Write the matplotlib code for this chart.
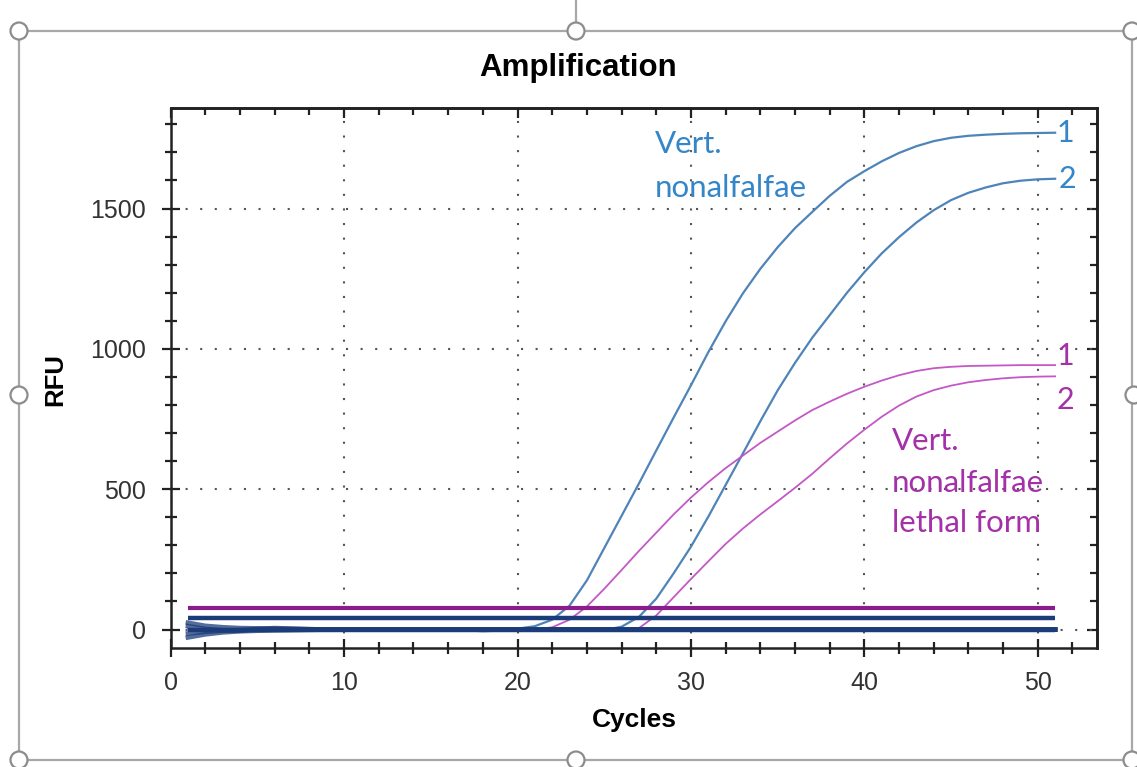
import matplotlib.pyplot as plt
from matplotlib.patches import Circle, Rectangle
from matplotlib.ticker import MultipleLocator

# qPCR amplification run, RFU per cycle
cycles = list(range(1, 52))

vn_1 = [0] * 16 + [-3, -6, -4, 3, 12, 35, 85, 175, 290, 405, 520, 638, 755, 870,
                   988, 1098, 1198, 1285, 1362, 1430, 1488, 1545, 1595, 1633, 1668,
                   1698, 1722, 1740, 1752, 1759, 1763, 1766, 1768, 1769, 1770]
vn_2 = [0] * 22 + [-3, -5, -2, 10, 45, 110, 200, 295, 402, 515, 628, 742, 852, 950,
                   1040, 1120, 1200, 1273, 1340, 1398, 1450, 1494, 1530, 1556, 1575,
                   1590, 1599, 1604, 1606]
lethal_1 = [0] * 21 + [8, 35, 82, 145, 212, 280, 345, 410, 470, 525, 575, 620, 665,
                       705, 745, 782, 812, 840, 865, 887, 906, 921, 931, 936, 939, 940,
                       941, 942, 942, 942]
lethal_2 = [0] * 24 + [-3, -5, 5, 50, 115, 180, 243, 305, 360, 410, 457, 505, 555,
                       610, 663, 712, 758, 798, 830, 853, 869, 881, 889, 895, 899, 901,
                       902]

# flat traces (negative controls) sitting on the baseline
neg_a = [24, 13, 8, 5, 4, 3, 2, 1] + [0] * 43
neg_b = [-28, -17, -10, -6, -4, -3, -2, -1] + [0] * 43
neg_c = [12, 2, -3, -4, 2, 5, 3, 1] + [0] * 43
neg_d = [-14, -8, -4, -2, -1, 0, 0, 0] + [0] * 43

thr_lethal = 78
thr_vn = 42

blue = '#4f84b8'
pink = '#c458c6'
navy = '#1b3c78'
purple = '#8b1c8b'
blue_txt = '#3486c8'
pink_txt = '#a531a8'

W, H = 1137, 767
fig = plt.figure(figsize=(W / 100, H / 100), dpi=100)

# selection frame with handles around the chart object
deco = fig.add_axes([0, 0, 1, 1], zorder=0)
deco.set_xlim(0, W)
deco.set_ylim(H, 0)
deco.axis('off')
deco.add_patch(Rectangle((19, 31), 1113, 729, fill=False, ec='#a8a8a8', lw=1.6))
deco.plot([576, 576], [0, 23], color='#a8a8a8', lw=1.6)
for hx, hy in [(19, 31), (576, 31), (1132, 31), (19, 395), (1134, 395),
               (19, 760), (576, 760), (1132, 760)]:
    deco.add_patch(Circle((hx, hy), 8.5, fc='white', ec='#8c8c8c', lw=1.6, zorder=3))

ax = fig.add_axes([0.1501, 0.1547, 0.8145, 0.7041], zorder=2)
ax.set_facecolor('none')

for y in [vn_1, vn_2]:
    ax.plot(cycles, y, color=blue, lw=1.6, zorder=2)
for y in [lethal_1, lethal_2]:
    ax.plot(cycles, y, color=pink, lw=1.3, zorder=2)

for y in [neg_a, neg_b, neg_c, neg_d]:
    ax.plot(cycles, y, color=navy, lw=3.4, alpha=0.75, zorder=3)
ax.hlines(0, cycles[0], cycles[-1], color=navy, lw=3.2, zorder=3)
ax.hlines(thr_vn, cycles[0], cycles[-1], color=navy, lw=3.2, zorder=3)
ax.hlines(thr_lethal, cycles[0], cycles[-1], color=purple, lw=3.0, zorder=3)

ax.set_xlim(0, 53.4)
ax.set_ylim(-67, 1857)
ax.xaxis.set_major_locator(MultipleLocator(10))
ax.xaxis.set_minor_locator(MultipleLocator(2))
ax.yaxis.set_major_locator(MultipleLocator(500))
ax.yaxis.set_minor_locator(MultipleLocator(100))
ax.grid(True, which='major', color='#555555', lw=1.5, ls=(0, (1, 6)), zorder=0.5)

ax.tick_params(which='both', direction='inout', width=1.6, color='#222222',
               labelsize=18, labelcolor='#333333', top=False, right=False)
ax.tick_params(which='major', length=13)
ax.tick_params(which='minor', length=8)
ax.tick_params(axis='x', pad=10)
ax.tick_params(axis='y', pad=11)
for lab in ax.get_xticklabels() + ax.get_yticklabels():
    lab.set_family('Liberation Sans')
for s in ax.spines.values():
    s.set_linewidth(1.8)
    s.set_color('#222222')

# inward ticks along the top and right edges
sec_x = ax.secondary_xaxis('top')
sec_x.xaxis.set_major_locator(MultipleLocator(10))
sec_x.xaxis.set_minor_locator(MultipleLocator(2))
sec_x.tick_params(which='both', direction='in', width=1.6, color='#222222', labeltop=False)
sec_x.tick_params(which='major', length=7)
sec_x.tick_params(which='minor', length=5)
sec_x.spines['top'].set_linewidth(1.8)
sec_y = ax.secondary_yaxis('right')
sec_y.yaxis.set_major_locator(MultipleLocator(500))
sec_y.yaxis.set_minor_locator(MultipleLocator(100))
sec_y.tick_params(which='both', direction='in', width=1.6, color='#222222', labelright=False)
sec_y.tick_params(which='major', length=7)
sec_y.tick_params(which='minor', length=5)
sec_y.spines['right'].set_linewidth(1.8)

fig.text(578 / W, 1 - 68 / H, 'Amplification', ha='center', va='center',
         fontsize=22.5, fontweight='bold', family='Liberation Sans')
fig.text(634 / W, 1 - 720 / H, 'Cycles', ha='center', va='center',
         fontsize=19, fontweight='bold', family='Liberation Sans')
fig.text(55 / W, 1 - 380 / H, 'RFU', ha='center', va='center', rotation=90,
         fontsize=18.5, fontweight='bold', family='Liberation Sans')

txt = dict(family='Lato', fontsize=22.5, va='baseline', ha='left')
ax.text(27.9, 1698, 'Vert.', color=blue_txt, **txt)
ax.text(27.9, 1540, 'nonalfalfae', color=blue_txt, **txt)
ax.text(41.6, 640, 'Vert.', color=pink_txt, **txt)
ax.text(41.6, 490, 'nonalfalfae', color=pink_txt, **txt)
ax.text(41.6, 347, 'lethal form', color=pink_txt, **txt)

num = dict(family='Lato', fontsize=22, va='center', ha='center')
ax.text(51.6, vn_1[-1], '1', color=blue_txt, **num)
ax.text(51.7, vn_2[-1], '2', color=blue_txt, **num)
ax.text(51.6, 975, '1', color=pink_txt, **num)
ax.text(51.6, 817, '2', color=pink_txt, **num)

fig.savefig('out.png', dpi=100)
